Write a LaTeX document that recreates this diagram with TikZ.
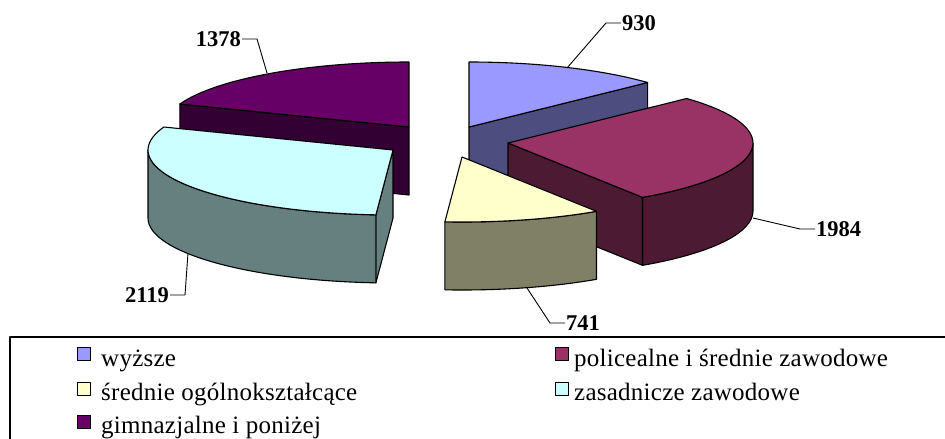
\documentclass[tikz,border=0pt]{standalone}
\usepackage{fontspec}
\setmainfont{Liberation Serif}
\newfontfamily\lgfont[LetterSpace=1]{Liberation Serif}
\usetikzlibrary{calc}
\definecolor{blueT}{HTML}{9999FF}\definecolor{blueS}{HTML}{4D4D80}
\definecolor{redT}{HTML}{993366}\definecolor{redS}{HTML}{4D1A33}
\definecolor{yelT}{HTML}{FFFFCC}\definecolor{yelS}{HTML}{808066}
\definecolor{cyaT}{HTML}{CCFFFF}\definecolor{cyaS}{HTML}{668080}
\definecolor{purT}{HTML}{660066}\definecolor{purS}{HTML}{330033}
\begin{document}
\begin{tikzpicture}[x=1pt,y=-1pt,line join=round]
\useasboundingbox (0,0) rectangle (945,439);
\clip (0,0) rectangle (945,439);
\tikzset{
  face/.style={draw=black,line width=1.1pt},
  er/.style={x radius=245,y radius=65},
  lead/.style={draw=black,line width=0.9pt},
  val/.style={font=\fontsize{22.5}{24}\selectfont\bfseries,inner sep=1pt},
  mk/.style={draw=black,line width=0.9pt,minimum size=13.5pt,inner sep=0pt},
  lg/.style={font=\lgfont\fontsize{25}{27}\selectfont,inner sep=0pt,anchor=base west}
}
% ---------- gimnazjalne (purple) ----------
\coordinate (G) at (409,127);
\coordinate (G1) at ($(G)+({245*sin(290.7)},{-65*cos(290.7)})$);
\filldraw[purS,face] (G) -- (G1) -- ($(G1)+(0,68)$) -- ($(G)+(0,68)$) -- cycle;
\filldraw[purT,face] (G) -- (G1) arc[start angle=200.7,end angle=270,er] -- cycle;
% ---------- wyzsze (blue) ----------
\coordinate (B) at (469,127);
\coordinate (B1) at ($(B)+(0,-65)$);
\coordinate (B2) at ($(B)+({245*sin(46.8)},{-65*cos(46.8)})$);
\filldraw[blueS,face] (B) -- (B2) -- ($(B2)+(0,68)$) -- ($(B)+(0,68)$) -- cycle;
\filldraw[blueT,face] (B) -- (B1) arc[start angle=-90,end angle=-43.2,er] -- cycle;
% ---------- policealne (red) ----------
\coordinate (R) at (508,143);
\coordinate (R1) at ($(R)+({245*sin(46.8)},{-65*cos(46.8)})$);
\coordinate (R2) at ($(R)+({245*sin(146.7)},{-65*cos(146.7)})$);
\coordinate (R9) at ($(R)+(245,0)$);
\filldraw[redS,face] (R9) arc[start angle=0,end angle=56.7,er] -- ($(R2)+(0,68)$) arc[start angle=56.7,end angle=0,er] -- cycle;
\filldraw[redS,face] (R) -- (R2) -- ($(R2)+(0,68)$) -- ($(R)+(0,68)$) -- cycle;
\filldraw[redT,face] (R) -- (R1) arc[start angle=-43.2,end angle=56.7,er] -- cycle;
% ---------- zasadnicze (cyan) ----------
\coordinate (Z) at (393,150);
\coordinate (Z1) at ($(Z)+({245*sin(184)},{-65*cos(184)})$);
\filldraw[cyaS,face] (Z) -- (Z1) -- ($(Z1)+(0,68)$) -- ($(Z)+(0,68)$) -- cycle;
\filldraw[cyaS,face] (Z1) arc[start angle=94,end angle=180,er] -- ++(0,68) arc[start angle=180,end angle=94,er] -- cycle;
\filldraw[cyaT,face] (Z) -- (Z1) arc[start angle=94,end angle=200.7,er] -- cycle;
% ---------- srednie (yellow) ----------
\coordinate (Y) at (462,157);
\coordinate (Y1) at ($(Y)+({245*sin(146.7)},{-65*cos(146.7)})$);
\filldraw[yelS,face] (Y1) arc[start angle=56.7,end angle=94,er] -- ++(0,68) arc[start angle=94,end angle=56.7,er] -- cycle;
\filldraw[yelT,face] (Y) -- (Y1) arc[start angle=56.7,end angle=94,er] -- cycle;
% ---------- value labels ----------
\node[val,anchor=west] (n930) at (621,23) {930};
\coordinate (a930) at (567,68); \coordinate (k930) at (606,23);
\draw[lead] (a930) -- (k930) -- (n930.west);
\node[val,anchor=west] (n1984) at (815,229) {1984};
\coordinate (a1984) at (753,218); \coordinate (k1984) at (800,229);
\draw[lead] (a1984) -- (k1984) -- (n1984.west);
\node[val,anchor=west] (n741) at (565,323) {741};
\coordinate (a741) at (527,288); \coordinate (k741) at (550,323);
\draw[lead] (a741) -- (k741) -- (n741.west);
\node[val,anchor=east] (n1378) at (242,39) {1378};
\coordinate (a1378) at (267,73); \coordinate (k1378) at (257,39);
\draw[lead] (a1378) -- (k1378) -- (n1378.east);
\node[val,anchor=east] (n2119) at (170,295) {2119};
\coordinate (a2119) at (188,253); \coordinate (k2119) at (185,295);
\draw[lead] (a2119) -- (k2119) -- (n2119.east);
% ---------- legend ----------
\draw[line width=1.5pt] (10,460) -- (10,337) -- (960,337);
\node[mk,fill=blueT] (m1) at (84,354) {};
\node[lg] (t1) at (101,366) {wyższe};
\node[mk,fill=redT] (m2) at (562,354) {};
\node[lg] (t2) at (574,366) {policealne i średnie zawodowe};
\node[mk,fill=yelT] (m3) at (84,389) {};
\node[lg] (t3) at (101,400) {średnie ogólnokształcące};
\node[mk,fill=cyaT] (m4) at (562,389) {};
\node[lg] (t4) at (574,400) {zasadnicze zawodowe};
\node[mk,fill=purT] (m5) at (84,422) {};
\node[lg] (t5) at (101,433) {gimnazjalne i poniżej};
\end{tikzpicture}
\end{document}
